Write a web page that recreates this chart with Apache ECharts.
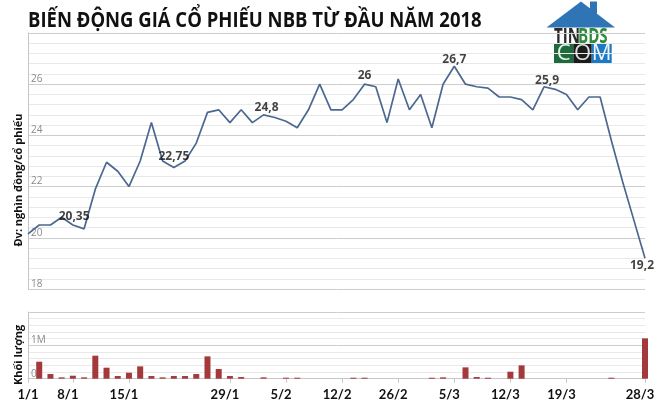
<!DOCTYPE html>
<html><head><meta charset="utf-8">
<script src="https://cdn.jsdelivr.net/npm/echarts@6/dist/echarts.min.js"></script>
<style>html,body{margin:0;padding:0;background:#fff}#c{width:660px;height:414px}</style>
</head><body><div id="c"></div>
<script>
// ---- data ----
const dates = ['1/1','2/1','3/1','4/1','8/1','9/1','10/1','11/1','12/1','15/1','16/1','17/1','18/1','19/1','22/1','23/1','24/1','25/1','29/1','30/1','31/1','1/2','2/2','5/2','6/2','7/2','8/2','9/2','12/2','13/2','21/2','22/2','23/2','26/2','27/2','28/2','1/3','2/3','5/3','6/3','7/3','8/3','9/3','12/3','13/3','14/3','15/3','16/3','19/3','20/3','21/3','22/3','23/3','26/3','27/3','28/3'];
const prices = [20.15,20.5,20.5,20.8,20.5,20.35,21.9,22.95,22.6,22.0,23.0,24.5,23.0,22.75,23.0,23.7,24.9,25.0,24.5,25.0,24.5,24.8,24.7,24.55,24.3,25.0,26.0,25.0,25.0,25.4,26.0,25.9,24.5,26.2,25.0,25.6,24.3,26.0,26.7,26.0,25.9,25.85,25.5,25.5,25.4,25.0,25.9,25.8,25.6,25.0,25.5,25.5,23.8,22.2,20.7,19.2];
// volume in millions of shares ('-' = no session)
const volumes = ['-',0.51,0.14,0.04,0.09,0.04,0.69,0.33,0.08,0.18,0.37,0.08,0.04,0.08,0.08,0.14,0.67,0.29,0.08,0.05,0,0.04,0,0.03,0.03,0,0,0,0,0.03,0.03,0,0,0,0,0,0.03,0.04,0,0.34,0.05,0.03,0,0.21,0.40,0,0,0,0,0,0,0,0.03,0,0,1.21];
const tickLabels = ['1/1','8/1','15/1','29/1','5/2','12/2','26/2','5/3','12/3','19/3','28/3'];
const annotatedDates = ['9/1','19/1','1/2','21/2','5/3','15/3','28/3'];
const yTickLabels = {18:'18',20:'20',22:'22',24:'24',26:'26'};
const volTickLabels = {0:'0',1:'1M'};
const titleText = 'BIẾN ĐỘNG GIÁ CỔ PHIẾU NBB TỪ ĐẦU NĂM 2018';
const yTitle = 'Đv: nghìn đồng/cổ phiếu';
const volTitle = 'Khối lượng';

// ---- styles ----
const labelStyle = {
  '9/1': {position:'top', distance:0, offset:[-10,-6]},
  '19/1': {position:'top', distance:4},
  '1/2': {position:'top', distance:1, offset:[3,0]},
  '21/2': {position:'top', distance:2},
  '5/3': {position:'top', distance:0},
  '15/3': {position:'top', distance:0, offset:[3,0]},
  '28/3': {position:'bottom', distance:1, offset:[-3,0]}
};
const fmt = v => String(v).replace('.', ',');
const annData = dates.map((d,i) => {
  if (!annotatedDates.includes(d)) return '-';
  return {value: prices[i], label: Object.assign({show:true}, labelStyle[d])};
});

const chart = echarts.init(document.getElementById('c'));
const grid1 = {left:28, right:15, top:33, height:256};
const grid2 = {left:28, right:15, top:312, height:66.7};
const axisGray = '#c6c6c6';
chart.setOption({
  animation:false,
  backgroundColor:'#fff',
  grid:[grid1, grid2],
  xAxis:[
    {gridIndex:0, type:'category', data:dates, boundaryGap:false,
     axisLine:{show:false}, axisTick:{show:false}, axisLabel:{show:false}, splitLine:{show:false}},
    {gridIndex:1, type:'category', data:dates, boundaryGap:false,
     axisLine:{show:true, lineStyle:{color:axisGray}},
     axisTick:{show:true, length:4, interval:(i,v)=>tickLabels.includes(v), lineStyle:{color:axisGray}},
     axisLabel:{interval:(i,v)=>tickLabels.includes(v), margin:10,
       formatter:(v,i)=> i===0 ? '{f|'+v+'}' : '{s|'+v+'}',
       rich:{f:{fontFamily:'Lato', fontWeight:'bold', fontSize:13, color:'#111'},
             s:{fontFamily:'Lato', fontWeight:'bold', fontSize:13, color:'#111', padding:[0,10,0,0]}}},
     splitLine:{show:false}}
  ],
  yAxis:[
    {gridIndex:0, type:'value', min:18, max:28, interval:2,
     axisLine:{show:true, lineStyle:{color:axisGray}}, axisTick:{show:false},
     axisLabel:{inside:true, margin:3, color:'#8a8a8a', fontSize:10, fontFamily:'Open Sans',
       verticalAlign:'bottom', formatter:v=>yTickLabels[v]||''},
     splitLine:{lineStyle:{color:'#cdcdcd', width:1}},
     minorTick:{show:false, splitNumber:5},
     minorSplitLine:{show:true, lineStyle:{color:'#e9e9e9', width:1}}},
    {gridIndex:1, type:'value', min:0, max:2, interval:1,
     axisLine:{show:true, lineStyle:{color:axisGray}}, axisTick:{show:false},
     axisLabel:{inside:true, margin:3, color:'#8a8a8a', fontSize:10, fontFamily:'Open Sans',
       verticalAlign:'bottom', formatter:v=>volTickLabels[v]||''},
     splitLine:{lineStyle:{color:'#cdcdcd', width:1}},
     minorTick:{show:false, splitNumber:5},
     minorSplitLine:{show:true, lineStyle:{color:'#e9e9e9', width:1}}}
  ],
  series:[
    {type:'line', xAxisIndex:0, yAxisIndex:0, data:prices, symbol:'none',
     lineStyle:{color:'#4A6890', width:1.7}, z:3},
    {type:'scatter', xAxisIndex:0, yAxisIndex:0, data:annData, symbolSize:1,
     itemStyle:{color:'rgba(0,0,0,0)'}, silent:true, z:4,
     label:{show:false, formatter:p=>fmt(p.value), color:'#111', fontFamily:'Open Sans',
       fontWeight:'bold', fontSize:12}},
    {type:'bar', xAxisIndex:1, yAxisIndex:1, data:volumes, barWidth:6, clip:false,
     itemStyle:{color:'#A3393B'}}
  ],
  graphic:[
    {type:'text', x:28, y:10, scaleX:0.84, style:{text:titleText, fontFamily:'Open Sans', fontWeight:'bold', fontSize:22, fill:'#111'}},
    {type:'text', x:19, y:180, rotation:Math.PI/2,
     style:{text:yTitle, fontFamily:'Open Sans', fontWeight:'bold', fontSize:11, fill:'#111', textAlign:'center', textVerticalAlign:'middle'}},
    {type:'text', x:19, y:355, rotation:Math.PI/2,
     style:{text:volTitle, fontFamily:'Open Sans', fontWeight:'bold', fontSize:11, fill:'#111', textAlign:'center', textVerticalAlign:'middle'}},
    // logo
    {type:'group', x:0, y:0, z:100, children:[
      {type:'rect', shape:{x:546, y:0, width:70, height:64}, style:{fill:'#fff'}},
      {type:'polygon', shape:{points:[[546.5,27.5],[581,1.5],[615,27.5]]}, style:{fill:'#2F74B5'}},
      {type:'rect', shape:{x:590, y:1.5, width:7, height:12}, style:{fill:'#2F74B5'}},
      {type:'text', x:554, y:26.5, scaleX:0.72,
       style:{text:'TIN', fontFamily:'Open Sans', fontWeight:'bold', fontSize:21, fill:'#2a2a2a'}},
      {type:'text', x:578, y:26.5, scaleX:0.72,
       style:{text:'BDS', fontFamily:'Open Sans', fontWeight:'bold', fontSize:21, fill:'#2E8B3E'}},
      {type:'rect', shape:{x:554, y:43.5, width:19.3, height:20}, style:{fill:'#1D6B3B'}},
      {type:'rect', shape:{x:573.3, y:43.5, width:18.4, height:20}, style:{fill:'#1b1b1b'}},
      {type:'rect', shape:{x:591.7, y:43.5, width:20, height:20}, style:{fill:'#1C7AC3'}},
      {type:'text', x:563.6, y:53.5, style:{text:'C', fontFamily:'Open Sans', fontSize:22, fill:'#e8f0ea', textAlign:'center', textVerticalAlign:'middle'}},
      {type:'text', x:582.5, y:53.5, style:{text:'O', fontFamily:'Open Sans', fontSize:22, fill:'#dddddd', textAlign:'center', textVerticalAlign:'middle'}},
      {type:'text', x:601.7, y:53.5, style:{text:'M', fontFamily:'Open Sans', fontSize:22, fill:'#eef5fb', textAlign:'center', textVerticalAlign:'middle'}}
    ]}
  ]
});
</script></body></html>
